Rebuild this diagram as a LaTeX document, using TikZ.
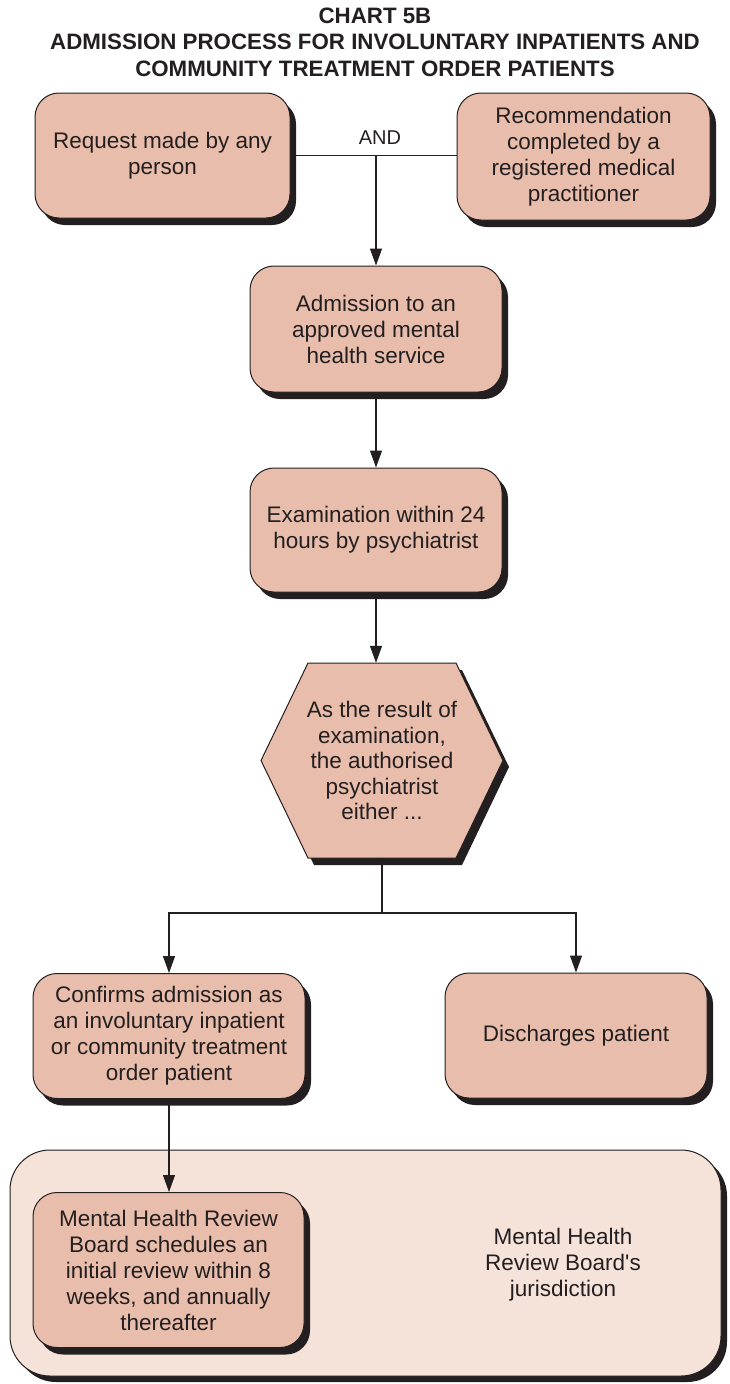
\documentclass[tikz,border=0pt]{standalone}
\usepackage{fontspec}
\setmainfont{Liberation Sans}
\usetikzlibrary{arrows.meta,shadows}
\definecolor{boxfill}{HTML}{E9BDAB}
\definecolor{areafill}{HTML}{F5E3DA}
\definecolor{ink}{HTML}{231F20}
\tikzset{
  stepbox/.style={draw=ink, line width=1pt, fill=boxfill, rounded corners=24pt, align=center,
    inner sep=0pt, text=ink, font=\fontsize{22.5}{26}\selectfont,
    general shadow={fill=ink, shadow xshift=6pt, shadow yshift=-7pt}},
  conn/.style={draw=ink, line width=1.1pt},
  arr/.style={conn, -{Triangle[length=17pt,width=12pt]}}
}
\begin{document}
\begin{tikzpicture}[x=1pt,y=-1pt]
\useasboundingbox (0,0) rectangle (729,1384);
% title
\node[font=\bfseries\fontsize{22.3}{26.5}\selectfont, align=center, text=ink] (title) at (375,42)
  {CHART 5B\\ADMISSION PROCESS FOR INVOLUNTARY INPATIENTS AND\\COMMUNITY TREATMENT ORDER PATIENTS};
% container
\node[draw=ink, line width=1pt, fill=areafill, rounded corners=40pt, minimum width=711pt, minimum height=226pt, inner sep=0pt,
  general shadow={fill=ink, shadow xshift=6pt, shadow yshift=-6pt}] (area) at (365.5,1263) {};
\node[text=ink, align=center, font=\fontsize{22.5}{26}\selectfont] (arealabel) at (563,1265) {Mental Health\\Review Board\textquotesingle s\\jurisdiction};
% boxes
\node[stepbox, minimum width=255pt, minimum height=125pt] (b1) at (162.5,155.5) {Request made by any\\person};
\node[stepbox, minimum width=253pt, minimum height=127pt] (b2) at (583.5,156.5) {Recommendation\\completed by a\\registered medical\\practitioner};
\node[stepbox, minimum width=252pt, minimum height=126pt] (b3) at (376,329) {Admission to an\\approved mental\\health service};
\node[stepbox, minimum width=252pt, minimum height=124pt] (b4) at (376,530) {Examination within 24\\hours by psychiatrist};
% hexagon
\fill[ink] (314,670) -- (462,670) -- (509,767) -- (462,865) -- (314,865) -- (267,767) -- cycle;
\filldraw[draw=ink, line width=1pt, fill=boxfill] (308,663) -- (456,663) -- (503,760.5) -- (456,858) -- (308,858) -- (261,760.5) -- cycle;
\node[minimum width=242pt, minimum height=195pt, inner sep=0pt, align=center, text=ink, font=\fontsize{22.5}{25.5}\selectfont] (hex) at (382,760.5)
  {As the result of\\examination,\\the authorised\\psychiatrist\\either ...};
\node[stepbox, minimum width=272pt, minimum height=125pt] (b5) at (169,1036) {Confirms admission as\\an involuntary inpatient\\or community treatment\\order patient};
\node[stepbox, minimum width=262pt, minimum height=125pt] (b6) at (576,1035.5) {Discharges patient};
\node[stepbox, minimum width=271pt, minimum height=155pt] (b7) at (168.5,1270) {Mental Health Review\\Board schedules an\\initial review within 8\\weeks, and annually\\thereafter};
% connectors
\draw[conn] (b1.east) -- (b1.east -| b2.west);
\node[text=ink, font=\fontsize{20}{24}\selectfont] (andlbl) at (380,138) {AND};
\coordinate (andpt) at (376,155.5);
\draw[arr] (andpt) -- (b3.north);
\draw[arr] (b3.south) -- (b4.north);
\draw[arr] (b4.south) -- (b4.south |- hex.north);
\coordinate (split) at (382,913);
\draw[conn] (hex.south) -- (split);
\draw[arr] (split) -| (b5.north);
\draw[arr] (split) -| (b6.north);
\draw[arr] (b5.south) -- (b5.south |- b7.north);
\end{tikzpicture}
\end{document}
